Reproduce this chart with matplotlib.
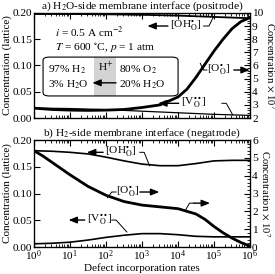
import numpy as np
import matplotlib
matplotlib.use('Agg')
import matplotlib.pyplot as plt
from matplotlib.ticker import AutoMinorLocator, LogLocator, NullFormatter
from matplotlib.patches import FancyBboxPatch, Rectangle

plt.rcParams['font.family'] = ['Liberation Serif', 'DejaVu Serif']
plt.rcParams['mathtext.fontset'] = 'stix'

# Panel a) H2O-side (positrode) -- log10 of rate and values
a_oh_logx = [0, 1, 2, 3, 4, 5, 6]
a_oh = [0.198, 0.198, 0.1975, 0.1965, 0.195, 0.1925, 0.190]          # left axis
a_o_logx = [0, 0.5, 1, 1.5, 2, 2.5, 3, 3.5, 4, 4.25, 4.5, 4.75, 5, 5.25, 5.5, 5.75, 6]
a_o = [2.75, 2.65, 2.6, 2.58, 2.6, 2.65, 2.8, 3.0, 3.6, 4.2, 5.1, 6.1, 7.1, 8.0, 8.8, 9.35, 9.65]  # right axis
a_v_logx = [0, 1, 2, 3, 4, 5, 6]
a_v = [0.019, 0.018, 0.016, 0.013, 0.010, 0.007, 0.005]              # left axis

# Panel b) H2-side (negatrode)
b_oh_logx = [0, 0.5, 1, 1.5, 2, 2.5, 3, 3.5, 4, 4.5, 5, 5.5, 6]
b_oh = [0.180, 0.179, 0.177, 0.174, 0.168, 0.161, 0.155, 0.152, 0.152, 0.156, 0.161, 0.162, 0.162]
b_o_logx = [0, 0.25, 0.5, 0.75, 1, 1.5, 2, 2.5, 3, 3.5, 4, 4.5, 4.75, 5, 5.25, 5.5, 5.75, 6]
b_o = [5.4, 5.1, 4.75, 4.4, 4.05, 3.4, 2.9, 2.55, 2.35, 2.25, 2.15, 1.85, 1.55, 1.15, 0.8, 0.5, 0.25, 0.05]
b_v_logx = [0, 0.5, 1, 1.5, 2, 2.5, 3, 3.5, 4, 4.5, 5, 6]
b_v = [0.006, 0.007, 0.009, 0.013, 0.018, 0.022, 0.025, 0.025, 0.023, 0.020, 0.019, 0.019]

left_ticks = [0.00, 0.05, 0.10, 0.15, 0.20]
a_right_ticks = list(range(2, 11))
b_right_ticks = list(range(0, 7))

OH = r'[OH$_\mathrm{O}^{\bullet}$]'
OO = r'[O$_\mathrm{O}^{\bullet}$]'
VO = r'[V$_\mathrm{O}^{\bullet\bullet}$]'

TICK = 8.2
LAB = 8.0
ANN = 8.2

fig = plt.figure(figsize=(2.75, 2.74), dpi=100)
ax_a = fig.add_axes([0.1236, 0.5693, 0.7855, 0.3833])
ax_b = fig.add_axes([0.1236, 0.0985, 0.7855, 0.3905])


def setup(ax, right_ticks, show_xlabels):
    ax.set_xscale('log')
    ax.set_xlim(1, 1e6)
    ax.set_ylim(0, 0.2)
    ax.set_yticks(left_ticks)
    ax.set_yticklabels(['%.2f' % t for t in left_ticks])
    ax.xaxis.set_major_locator(LogLocator(base=10, numticks=10))
    ax.xaxis.set_minor_locator(LogLocator(base=10, subs=np.arange(2, 10), numticks=10))
    ax.xaxis.set_minor_formatter(NullFormatter())
    ax.tick_params(axis='both', which='both', direction='in', top=True, labelsize=TICK, pad=1.2)
    ax.tick_params(axis='x', which='major', length=4, width=0.8)
    ax.tick_params(axis='x', which='minor', length=2.5, width=0.6)
    ax.tick_params(axis='y', which='major', length=4, width=0.8)
    if not show_xlabels:
        ax.set_xticklabels([])
    ax.set_ylabel('Concentration (lattice)', fontsize=LAB, labelpad=0.5)
    for s in ax.spines.values():
        s.set_linewidth(0.9)
    tw = ax.twinx()
    tw.set_ylim(right_ticks[0], right_ticks[-1])
    tw.set_yticks(right_ticks)
    tw.yaxis.set_minor_locator(AutoMinorLocator(5))
    tw.tick_params(axis='y', which='both', direction='in', labelsize=TICK, pad=1.5)
    tw.tick_params(axis='y', which='major', length=4, width=0.8)
    tw.tick_params(axis='y', which='minor', length=2, width=0.6)
    tw.set_ylabel(r'Concentration $\times$ 10$^7$', fontsize=7.6, rotation=270,
                  va='bottom', labelpad=0.5)
    return tw


tw_a = setup(ax_a, a_right_ticks, False)
tw_b = setup(ax_b, b_right_ticks, True)
ax_b.set_xlabel('Defect incorporation rates', fontsize=LAB, labelpad=0)

# panel a curves
ax_a.plot(10.0 ** np.array(a_oh_logx), a_oh, color='black', lw=1.3)
ax_a.plot(10.0 ** np.array(a_v_logx), a_v, color='black', lw=0.9)
tw_a.plot(10.0 ** np.array(a_o_logx), a_o, color='black', lw=2.0)

# panel b curves
ax_b.plot(10.0 ** np.array(b_oh_logx), b_oh, color='black', lw=1.2)
ax_b.plot(10.0 ** np.array(b_v_logx), b_v, color='black', lw=1.2)
tw_b.plot(10.0 ** np.array(b_o_logx), b_o, color='black', lw=2.0)

ax_a.set_title(r'a) H$_2$O-side membrane interface (positrode)', fontsize=8.2, pad=1.5)
ax_b.set_title(r'b) H$_2$-side membrane interface (negatrode)', fontsize=8.2, pad=1.5)

arrow_kw = dict(arrowstyle='-|>,head_length=0.5,head_width=0.2', color='black', lw=1.0,
                shrinkA=0, shrinkB=0)


def label(ax, text, tx, ty, arrow_from, arrow_to, leader):
    ax.text(tx, ty, text, transform=ax.transAxes, fontsize=ANN, va='center', ha='left')
    ax.annotate('', xy=(arrow_to, ty), xytext=(arrow_from, ty), xycoords='axes fraction',
                textcoords='axes fraction', arrowprops=arrow_kw)
    if leader is not None:
        ax.plot(leader[0], leader[1], color='black', lw=0.7, transform=ax.transAxes,
                clip_on=False)


# panel a labels
label(tw_a, OH, 0.63, 0.876, 0.62, 0.525, ([0.785, 0.81, 0.83], [0.876, 0.876, 0.96]))
label(tw_a, OO, 0.80, 0.457, 0.925, 0.999, ([0.80, 0.785, 0.77], [0.457, 0.457, 0.52]))
label(tw_a, VO, 0.68, 0.14, 0.67, 0.575, ([0.87, 0.89, 0.92], [0.14, 0.14, 0.03]))

# panel b labels
label(tw_b, OH, 0.33, 0.885, 0.32, 0.245, ([0.49, 0.51, 0.535], [0.885, 0.885, 0.76]))
label(tw_b, OO, 0.38, 0.514, 0.49, 0.58, ([0.38, 0.36, 0.34], [0.514, 0.514, 0.46]))
tw_b.annotate('', xy=(0.815, 0.41), xytext=(0.74, 0.41), xycoords='axes fraction',
              textcoords='axes fraction', arrowprops=arrow_kw)
tw_b.plot([0.70, 0.72, 0.74], [0.34, 0.41, 0.41], color='black', lw=0.7,
          transform=tw_b.transAxes)
label(tw_b, VO, 0.245, 0.252, 0.235, 0.16, ([0.36, 0.38, 0.43], [0.252, 0.252, 0.14]))

# conditions text and gas box in panel a
tw_a.text(0.097, 0.81, r'$i$ = 0.5 A cm$^{-2}$', transform=tw_a.transAxes, fontsize=ANN,
          va='center', ha='left')
tw_a.text(0.097, 0.667, r'$T$ = 600 $^{\circ}$C, $p$ = 1 atm', transform=tw_a.transAxes,
          fontsize=ANN, va='center', ha='left')
tw_a.add_patch(Rectangle((0.278, 0.21), 0.102, 0.37, transform=tw_a.transAxes,
                         facecolor='#d3d3d3', edgecolor='none', zorder=1))
tw_a.add_patch(FancyBboxPatch((0.042, 0.21), 0.625, 0.37, transform=tw_a.transAxes,
                              boxstyle='round,pad=0,rounding_size=0.03', facecolor='none',
                              edgecolor='black', lw=0.8, zorder=2))
tw_a.text(0.065, 0.46, r'97% H$_2$', transform=tw_a.transAxes, fontsize=ANN, va='center')
tw_a.text(0.065, 0.32, r'3% H$_2$O', transform=tw_a.transAxes, fontsize=ANN, va='center')
tw_a.text(0.394, 0.46, r'80% O$_2$', transform=tw_a.transAxes, fontsize=ANN, va='center')
tw_a.text(0.394, 0.32, r'20% H$_2$O', transform=tw_a.transAxes, fontsize=ANN, va='center')
tw_a.text(0.33, 0.49, r'H$^{+}$', transform=tw_a.transAxes, fontsize=ANN, va='center',
          ha='center')
tw_a.annotate('', xy=(0.27, 0.335), xytext=(0.38, 0.335), xycoords='axes fraction',
              textcoords='axes fraction', arrowprops=arrow_kw)

fig.savefig('out.png', dpi=100)
